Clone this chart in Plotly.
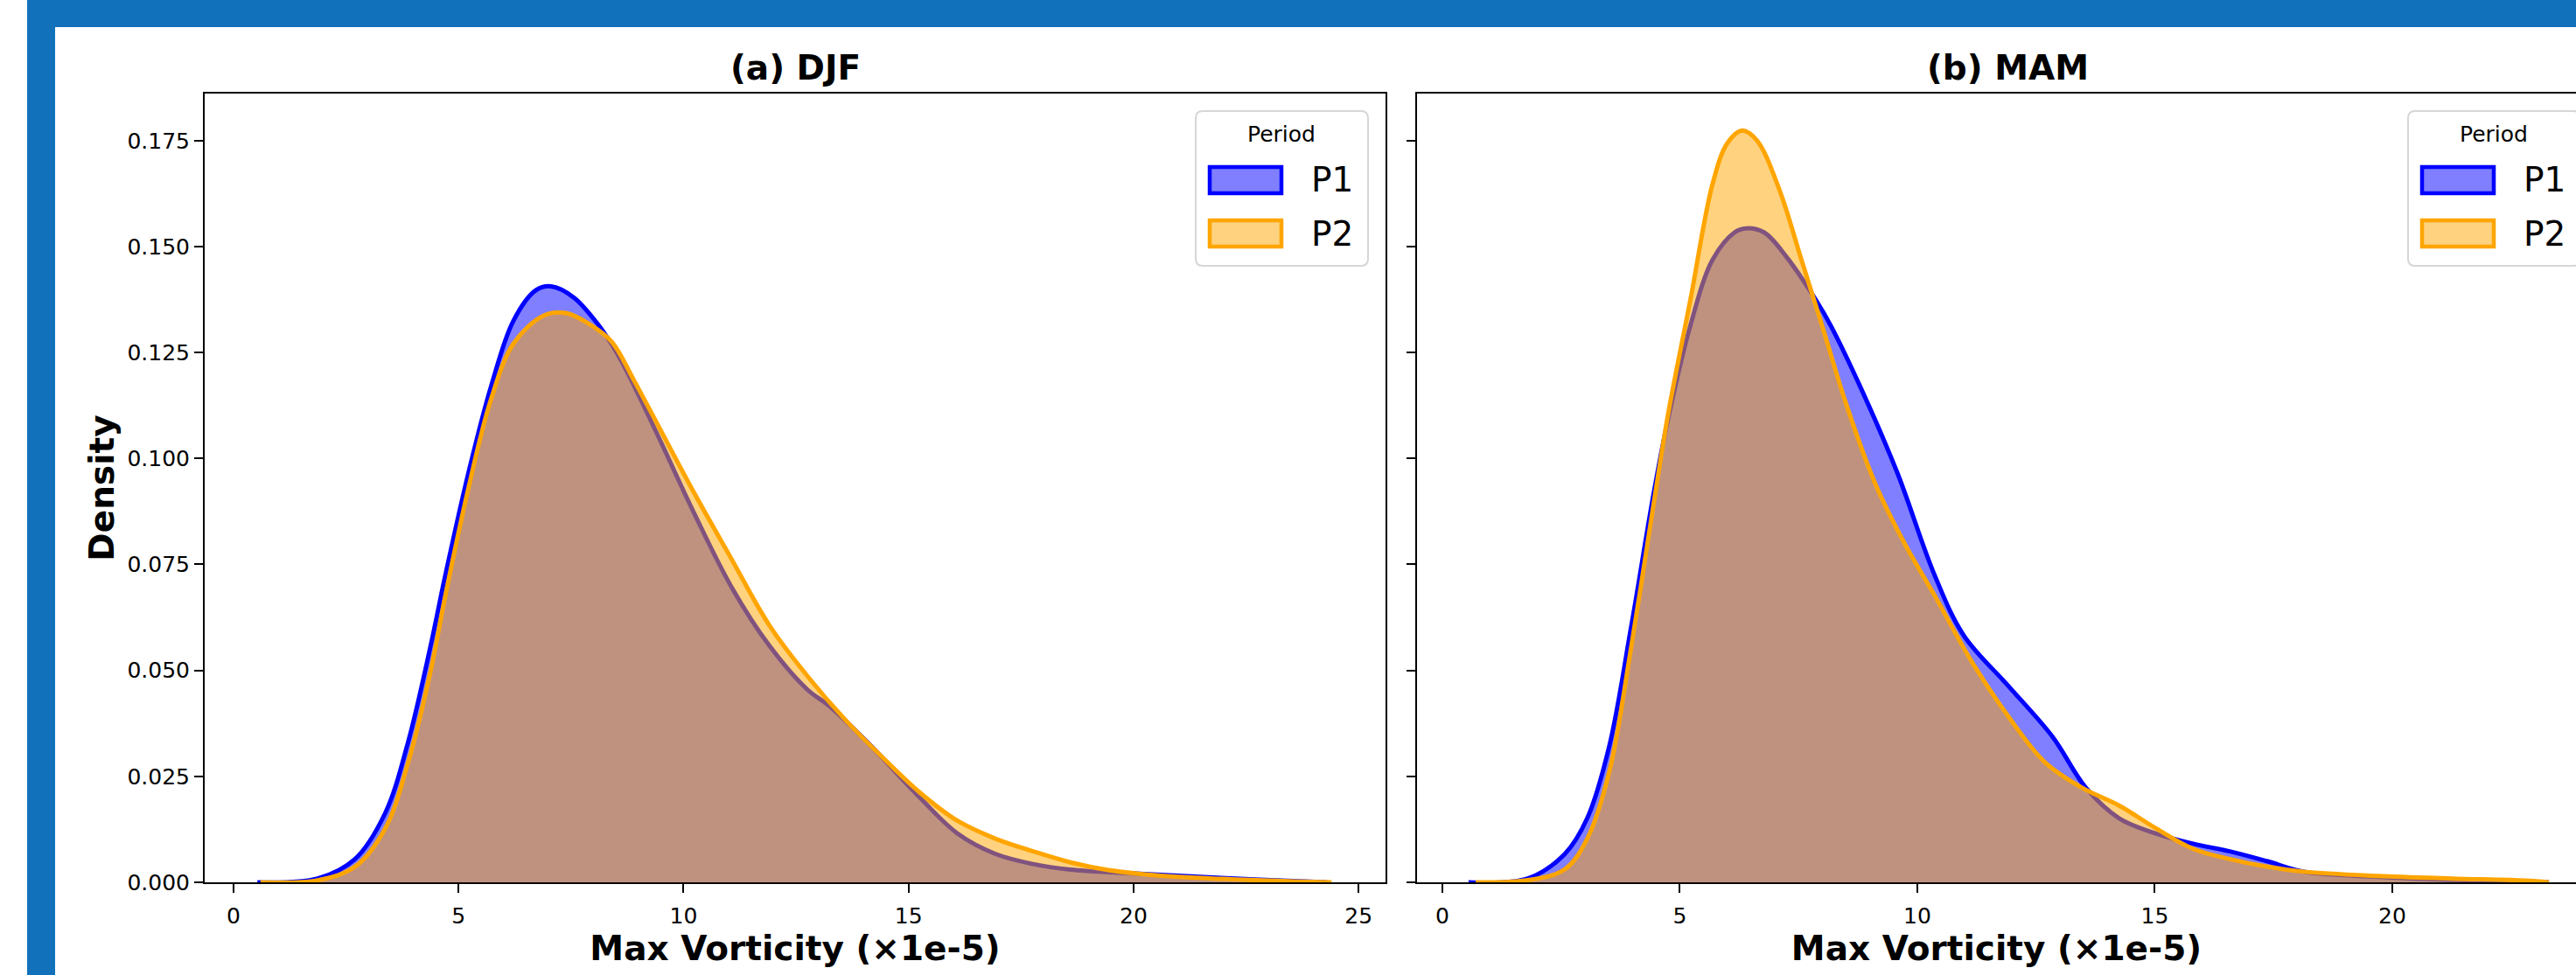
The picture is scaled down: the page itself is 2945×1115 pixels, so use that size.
import plotly.graph_objects as go

# ---------------- data ----------------
panel_titles = ["(a) DJF", "(b) MAM"]
series_names = ["P1", "P2"]
legend_title = "Period"
x_label = "Max Vorticity (×1e-5)"
y_label = "Density"

djf_p1_x = [0.53, 1.87, 2.7, 3.37, 3.88, 4.38, 4.71, 5.22, 5.72, 6.22, 6.72, 7.06, 7.56, 8.06, 8.4, 8.73, 9.4,
            10.24, 11.07, 11.91, 12.75, 13.25, 14.08, 15.26, 16.09, 16.93, 17.77, 18.6, 19.8, 21.1, 22.8, 24.3]
djf_p1_y = [0.0, 0.0009, 0.0055, 0.0163, 0.0331, 0.0558, 0.0726, 0.0966, 0.1169, 0.1325, 0.1397, 0.1406,
            0.1380, 0.1322, 0.1270, 0.1208, 0.1061, 0.0870, 0.0696, 0.0558, 0.0455, 0.0415, 0.0331, 0.0199,
            0.0115, 0.0067, 0.0043, 0.0030, 0.0022, 0.0015, 0.0006, 0.0]

djf_p2_x = [0.6, 1.87, 2.7, 3.37, 3.88, 4.38, 4.71, 5.22, 5.72, 6.22, 6.89, 7.39, 7.89, 8.4, 8.9, 9.4,
            10.24, 11.07, 11.91, 12.75, 13.58, 14.42, 15.26, 16.09, 16.93, 17.77, 18.6, 19.44, 20.44, 21.95,
            23.6, 24.4]
djf_p2_y = [0.0, 0.0005, 0.0037, 0.0127, 0.0283, 0.0499, 0.0678, 0.0930, 0.1139, 0.1271, 0.1337, 0.1343,
            0.1318, 0.1276, 0.1184, 0.1085, 0.0918, 0.0762, 0.0606, 0.0487, 0.0385, 0.0295, 0.0211, 0.0145,
            0.0103, 0.0073, 0.0047, 0.0029, 0.0017, 0.0008, 0.0002, 0.0]

mam_p1_x = [0.55, 1.8, 2.58, 3.05, 3.51, 3.98, 4.45, 4.76, 5.22, 5.69, 6.16, 6.39, 6.78, 7.25, 7.87, 8.18,
            8.8, 9.58, 10.36, 10.98, 11.92, 12.85, 13.55, 14.25, 15.03, 15.81, 16.58, 17.36, 18.14, 19.7,
            21.25, 23.3]
mam_p1_y = [0.0, 0.0009, 0.0067, 0.0151, 0.0319, 0.0606, 0.0918, 0.1097, 0.1313, 0.1469, 0.1534, 0.1543,
            0.1533, 0.1475, 0.1373, 0.1313, 0.1169, 0.0966, 0.0726, 0.0582, 0.0463, 0.0343, 0.0223, 0.0151,
            0.0115, 0.0091, 0.0073, 0.0050, 0.0025, 0.0013, 0.0006, 0.0]

mam_p2_x = [0.7, 1.8, 2.58, 3.05, 3.51, 3.98, 4.45, 4.76, 5.22, 5.69, 6.0, 6.31, 6.62, 7.09, 7.56, 8.03,
            8.49, 9.11, 9.74, 10.36, 11.14, 11.92, 12.69, 13.47, 14.25, 15.03, 15.81, 16.58, 17.36, 18.14,
            19.7, 21.25, 22.8, 23.3]
mam_p2_y = [0.0, 0.0005, 0.0031, 0.0103, 0.0259, 0.0558, 0.0894, 0.1109, 0.1373, 0.1648, 0.1744, 0.1774,
            0.1751, 0.1636, 0.1469, 0.1301, 0.1133, 0.0942, 0.0798, 0.0678, 0.0522, 0.0391, 0.0283, 0.0223,
            0.0181, 0.0127, 0.0079, 0.0055, 0.0037, 0.0025, 0.0015, 0.0009, 0.0004, 0.0]

x_ticks = [0, 5, 10, 15, 20, 25]
y_ticks = [0.0, 0.025, 0.05, 0.075, 0.1, 0.125, 0.15, 0.175]

# ---------------- styling ----------------
W, H = 2945, 1115
FONT = "DejaVu Sans"
line_colors = ["#0000FF", "#FFA500"]
fill_colors = ["rgba(0,0,255,0.5)", "rgba(255,165,0,0.5)"]
FRAME = "#1172BB"


def px(x):
    return x / W


def py(y):
    return 1 - y / H


fig = go.Figure()

panels = [
    ("x", "y", [(djf_p1_x, djf_p1_y), (djf_p2_x, djf_p2_y)]),
    ("x2", "y2", [(mam_p1_x, mam_p1_y), (mam_p2_x, mam_p2_y)]),
]
for xa, ya, series in panels:
    for i, (xs, ys) in enumerate(series):
        fig.add_trace(go.Scatter(
            x=xs, y=ys, xaxis=xa, yaxis=ya, mode="lines", name=series_names[i],
            line=dict(color=line_colors[i], width=5, shape="spline", smoothing=1.0),
            fill="tozeroy", fillcolor=fill_colors[i], showlegend=False, hoverinfo="skip"))

# axes geometry (pixels)
left_dom = (234, 1584)
right_dom = (1620, 2945)
top_px, bot_px = 107, 1009
y_range = [0, 0.1861]

common_x = dict(showline=True, linecolor="black", linewidth=2, ticks="outside", ticklen=10, tickwidth=2,
                tickcolor="black", showgrid=False, zeroline=False, tickvals=x_ticks,
                tickfont=dict(family=FONT, size=25, color="black"), ticklabelstandoff=5,
                title=dict(text="<b>" + x_label + "</b>", font=dict(family=FONT, size=39, color="black"),
                           standoff=1), automargin=False)
common_y = dict(showline=True, linecolor="black", linewidth=2, ticks="outside", ticklen=10, tickwidth=2,
                tickcolor="black", showgrid=False, zeroline=False, tickvals=y_ticks, range=y_range,
                tickformat=".3f", tickfont=dict(family=FONT, size=25, color="black"), ticklabelstandoff=0,
                automargin=False, domain=[py(bot_px), py(top_px)])

fig.update_layout(
    width=W, height=H, margin=dict(l=0, r=0, t=0, b=0, autoexpand=False),
    paper_bgcolor="white", plot_bgcolor="white", showlegend=False,
    font=dict(family=FONT, color="black"),
    xaxis=dict(common_x, domain=[px(left_dom[0]), px(left_dom[1])], range=[-0.641, 25.6], mirror=True,
               anchor="y"),
    yaxis=dict(common_y, mirror=True, anchor="x",
               title=dict(text="<b>" + y_label + "</b>", font=dict(family=FONT, size=39, color="black"),
                          standoff=3)),
    xaxis2=dict(common_x, domain=[px(right_dom[0]), px(right_dom[1])], range=[-0.534, 23.87], mirror=True,
                anchor="y2"),
    yaxis2=dict(common_y, mirror=False, anchor="x2", showticklabels=False, matches="y"),
)

# panel titles
for title, (l, r) in zip(panel_titles, [(234, 1584), (1620, 2970)]):
    fig.add_annotation(text="<b>" + title + "</b>", x=px((l + r) / 2), y=py(77), xref="paper", yref="paper",
                       showarrow=False, xanchor="center", yanchor="middle",
                       font=dict(family=FONT, size=39, color="black"))

# blue frame (top and left bars)
fig.add_shape(type="rect", xref="paper", yref="paper", x0=px(31), x1=px(W + 5), y0=py(31), y1=py(-5),
              fillcolor=FRAME, line=dict(width=0), layer="above")
fig.add_shape(type="rect", xref="paper", yref="paper", x0=px(31), x1=px(63), y0=py(H + 5), y1=py(-5),
              fillcolor=FRAME, line=dict(width=0), layer="above")


def rounded_rect(x0, y0, x1, y1, r):
    # pixel coordinates -> paper path
    def P(x, y):
        return f"{px(x)},{py(y)}"
    return (f"M {P(x0 + r, y0)} L {P(x1 - r, y0)} Q {P(x1, y0)} {P(x1, y0 + r)} "
            f"L {P(x1, y1 - r)} Q {P(x1, y1)} {P(x1 - r, y1)} L {P(x0 + r, y1)} "
            f"Q {P(x0, y1)} {P(x0, y1 - r)} L {P(x0, y0 + r)} Q {P(x0, y0)} {P(x0 + r, y0)} Z")


# legends (one per panel, drawn as in the reference)
for off in (0, 1386):
    fig.add_shape(type="path", xref="paper", yref="paper", path=rounded_rect(1367 + off, 127, 1564 + off, 304, 8),
                  fillcolor="rgba(255,255,255,0.8)", line=dict(color="#D6D6D6", width=2), layer="above")
    fig.add_annotation(text=legend_title, x=px(1465 + off), y=py(154), xref="paper", yref="paper",
                       showarrow=False, xanchor="center", yanchor="middle",
                       font=dict(family=FONT, size=25, color="black"))
    for i, yc in enumerate((206, 267)):
        fig.add_shape(type="rect", xref="paper", yref="paper", x0=px(1383 + off), x1=px(1465 + off),
                      y0=py(yc + 15), y1=py(yc - 15), fillcolor=fill_colors[i],
                      line=dict(color=line_colors[i], width=4.5), layer="above")
        fig.add_annotation(text=series_names[i], x=px(1497 + off), y=py(yc), xref="paper", yref="paper",
                           showarrow=False, xanchor="left", yanchor="middle",
                           font=dict(family=FONT, size=39, color="black"))

fig.write_html("out.html", config={"displayModeBar": False},
               post_script="document.body.style.margin='0px';document.body.style.overflow='hidden';")
